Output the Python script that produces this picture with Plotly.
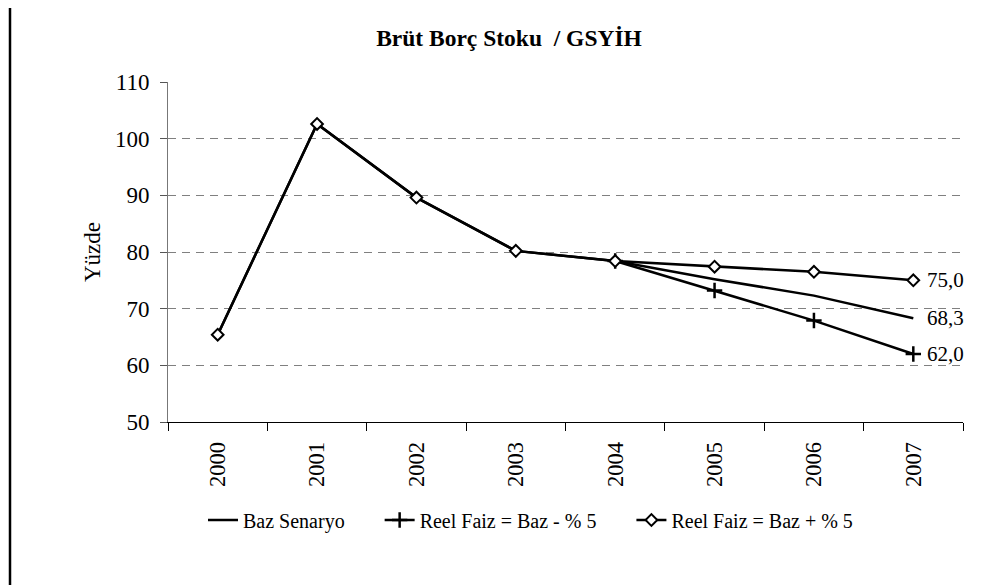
import plotly.graph_objects as go

years = ["2000", "2001", "2002", "2003", "2004", "2005", "2006", "2007"]
baz = [65.4, 102.6, 89.6, 80.2, 78.4, 75.2, 72.3, 68.3]
faiz_eksi = [65.4, 102.6, 89.6, 80.2, 78.4, 73.2, 67.9, 62.0]
faiz_arti = [65.4, 102.6, 89.6, 80.2, 78.4, 77.4, 76.5, 75.0]
names = ["Baz Senaryo", "Reel Faiz = Baz - % 5", "Reel Faiz = Baz + % 5"]
title_text = "Brüt Borç Stoku \u00a0/ GSYİH"
y_title = "Yüzde"

FONT = "Liberation Serif, Times New Roman, serif"
pad = "\u00a0" * 6
xpos = list(range(len(years)))
bounds = [i - 0.5 for i in range(len(years) + 1)]

fig = go.Figure()
fig.add_trace(go.Scatter(x=xpos, y=baz, mode="lines", name=names[0] + pad,
                         line=dict(color="black", width=2.5)))
fig.add_trace(go.Scatter(x=xpos[4:], y=faiz_eksi[4:], mode="lines+markers", name=names[1] + pad,
                         line=dict(color="black", width=2.5),
                         marker=dict(symbol="cross-thin", size=11,
                                     line=dict(color="black", width=2.5), color="black")))
fig.add_trace(go.Scatter(x=xpos, y=faiz_arti, mode="lines+markers", name=names[2],
                         line=dict(color="black", width=2.5),
                         marker=dict(symbol="diamond", size=9, color="white",
                                     line=dict(color="black", width=2))))

# end labels
for series in (faiz_arti, baz, faiz_eksi):
    fig.add_annotation(x=xpos[-1], y=series[-1], text=f"{series[-1]:.1f}".replace(".", ","),
                       showarrow=False, xanchor="left", yanchor="middle", xshift=12,
                       font=dict(family=FONT, size=21, color="black"))

# y axis title
fig.add_annotation(xref="paper", yref="paper", x=(92 - 168) / 795, y=(422 - 252) / 340,
                   text=y_title, textangle=-90, showarrow=False,
                   xanchor="center", yanchor="middle",
                   font=dict(family=FONT, size=23, color="black"))

# left border line
fig.add_shape(type="line", xref="paper", yref="paper",
              x0=(10 - 168) / 795, x1=(10 - 168) / 795,
              y0=-(585 - 422) / 340, y1=1 + (82 - 7) / 340,
              line=dict(color="black", width=2.5))

W, H = 984, 577  # page body adds an 8px offset
fig.update_layout(
    width=W, height=H,
    margin=dict(l=160, r=29, t=74, b=163),
    paper_bgcolor="white", plot_bgcolor="white",
    font=dict(family=FONT, size=21, color="black"),
    title=dict(text=title_text, x=(509 - 8) / W, xanchor="center", xref="container",
               y=1 - (38 - 8) / H, yanchor="middle", yref="container",
               font=dict(family=FONT, size=23.5, color="black", weight="bold")),
    showlegend=True,
    legend=dict(orientation="h", x=(203 - 168) / 795, xanchor="left",
                y=-(520 - 422) / 340, yanchor="middle",
                font=dict(family=FONT, size=20, color="black"),
                bgcolor="rgba(0,0,0,0)"),
)
fig.update_xaxes(range=[bounds[0], bounds[-1]], tickmode="array", tickvals=xpos, ticktext=years,
                 ticks="", showline=True, linecolor="black", linewidth=1,
                 showgrid=False, zeroline=False, tickangle=-90, ticklabelstandoff=10,
                 tickfont=dict(family=FONT, size=22.5, color="black"),
                 minor=dict(tickmode="array", tickvals=bounds, ticks="outside", ticklen=8,
                            tickcolor="black", showgrid=False))
fig.update_yaxes(range=[50, 110], dtick=10, tick0=50, ticks="outside", ticklen=7,
                 tickcolor="#555", showline=True, linecolor="#777", linewidth=1,
                 showgrid=True, gridcolor="#808080", griddash="8px,6px", gridwidth=1,
                 zeroline=False, ticklabelstandoff=6,
                 tickfont=dict(family=FONT, size=23, color="black"))

fig.write_html("out.html")
